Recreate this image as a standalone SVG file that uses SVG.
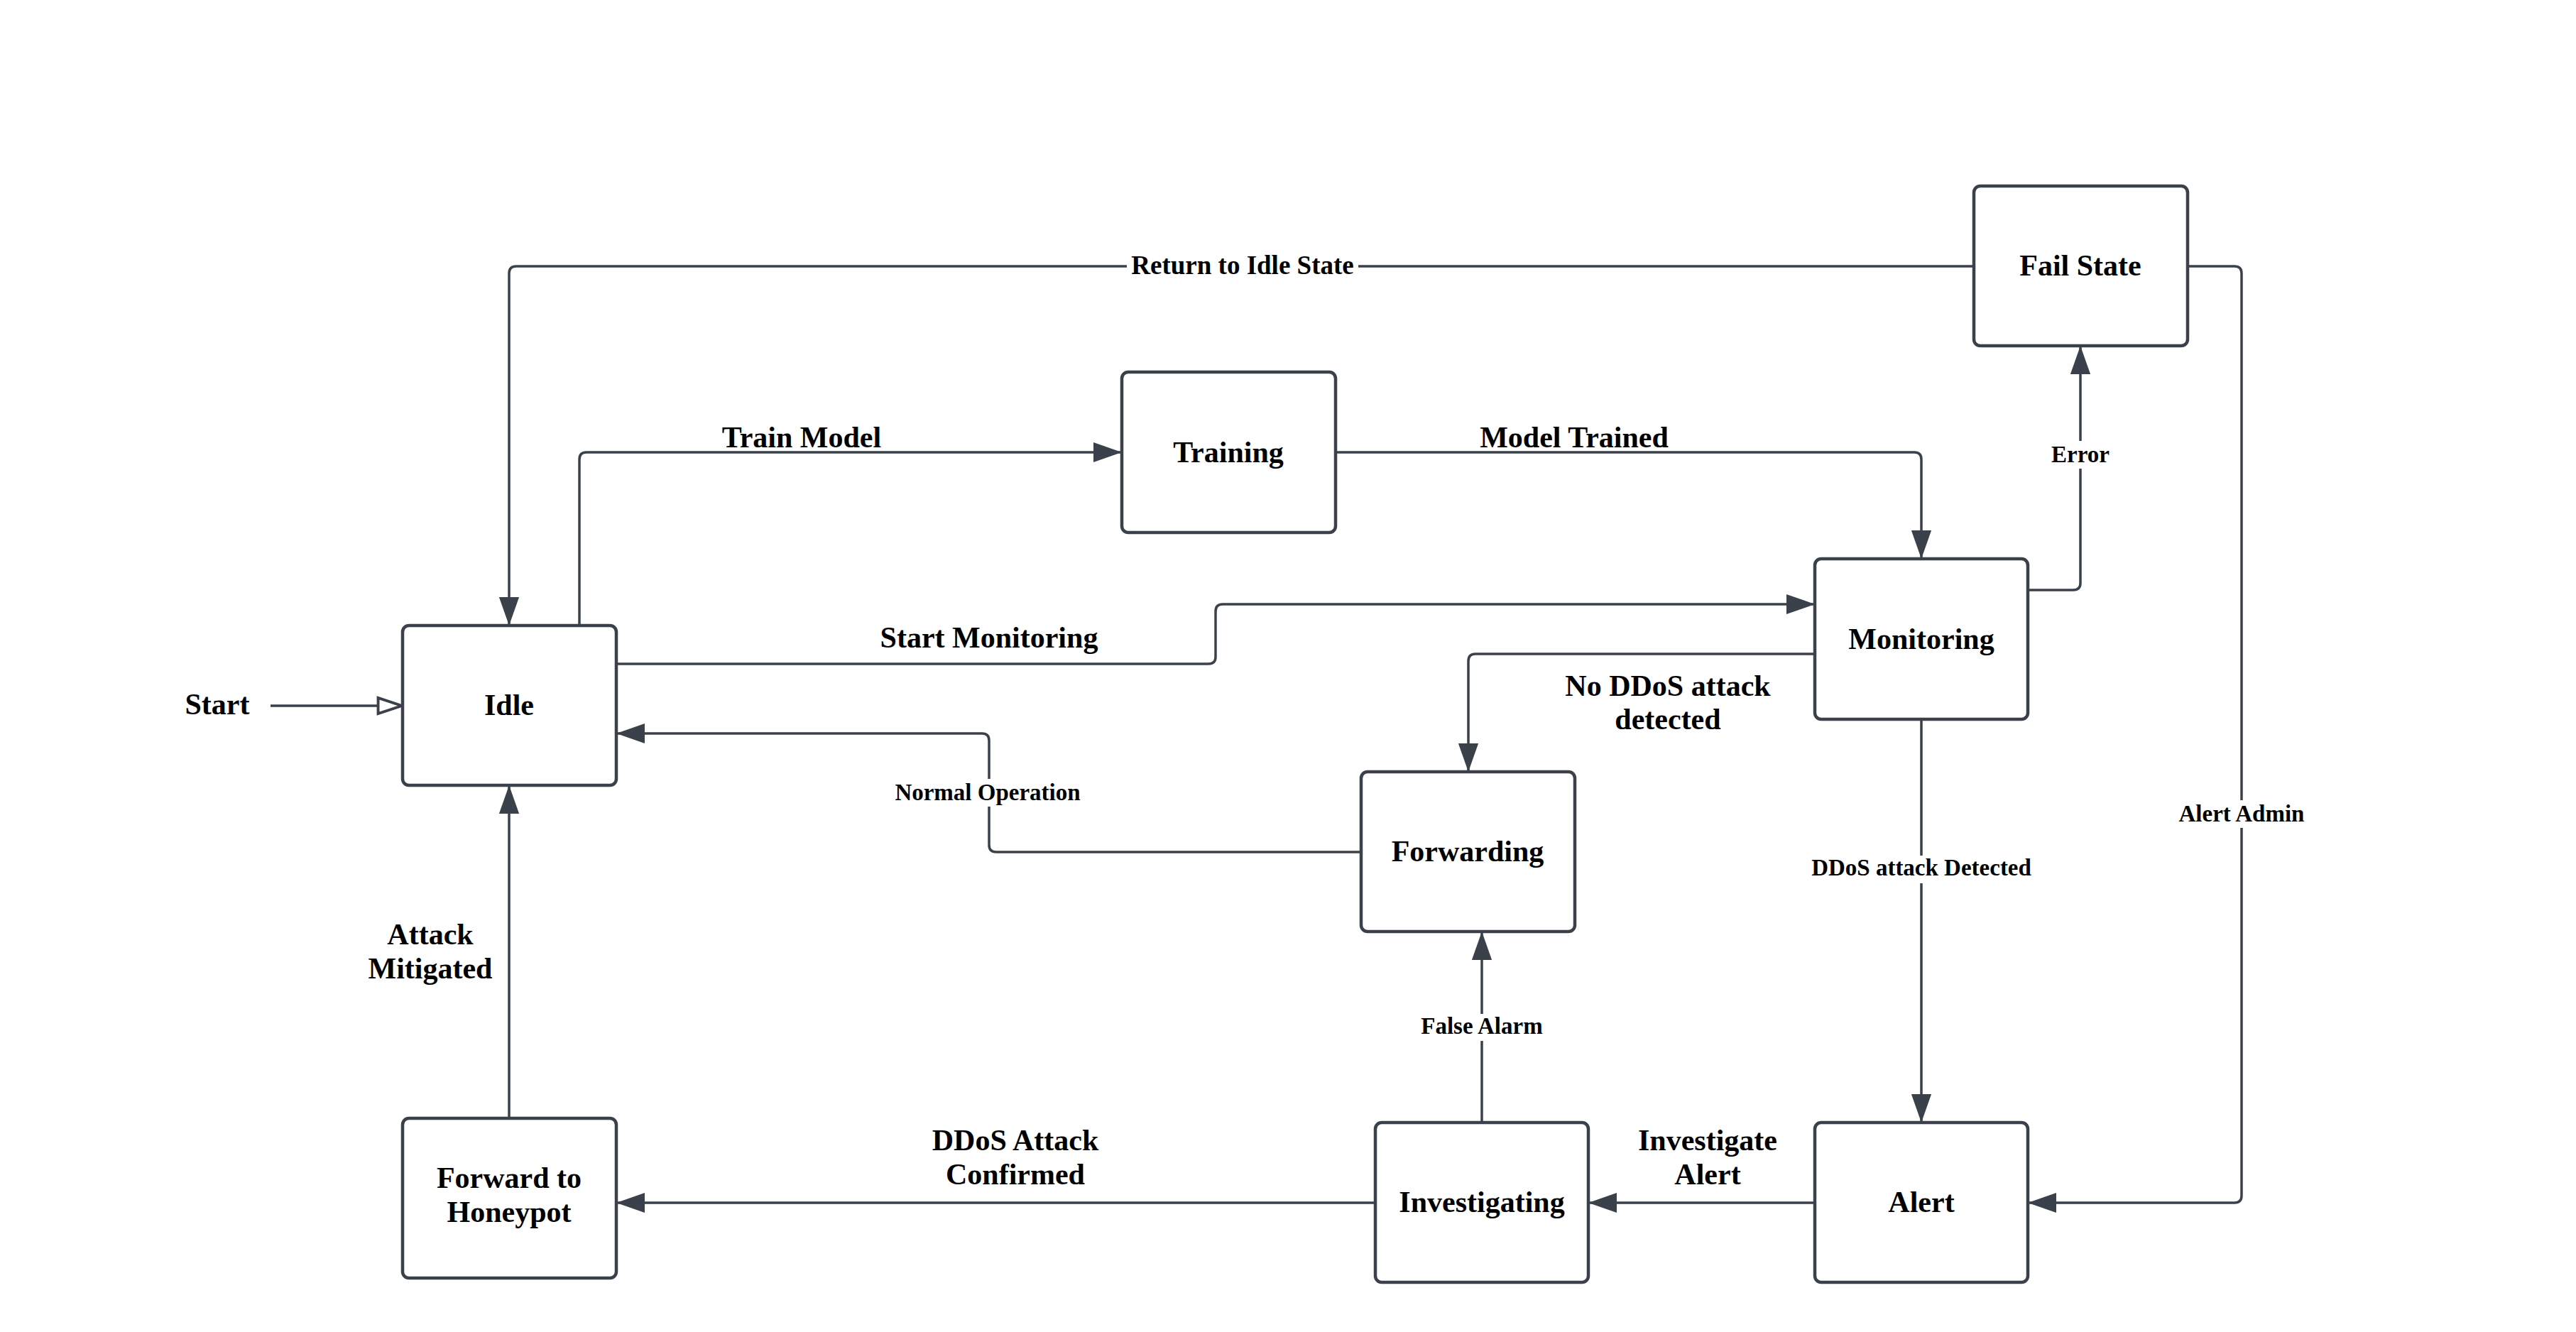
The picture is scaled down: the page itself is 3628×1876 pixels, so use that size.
<svg xmlns="http://www.w3.org/2000/svg" width="3628" height="1876" viewBox="0 0 3628 1876">
  <defs>
    <marker id="arrow" markerUnits="userSpaceOnUse" markerWidth="40" markerHeight="30" viewBox="0 0 34 24" refX="34" refY="12" orient="auto">
      <path d="M0,0 L34,12 L0,24 Z" fill="#3a414a"/>
    </marker>
    <marker id="arrow-open" markerUnits="userSpaceOnUse" markerWidth="40" markerHeight="30" viewBox="-2 -2 36 26" refX="32" refY="10" orient="auto">
      <path d="M1,0 L31,10 L1,20 Z" fill="#ffffff" stroke="#3a414a" stroke-width="3.5" stroke-linejoin="miter"/>
    </marker>
  </defs>
  <style>
    .node rect { fill: #ffffff; stroke: #3a414a; stroke-width: 4.5; }
    .node text, .label { font-family: "Liberation Serif", "Times New Roman", serif; font-weight: bold; fill: #000000; text-anchor: middle; }
    .node text { font-size: 42px; }
    .edge { fill: none; stroke: #3a414a; stroke-width: 3.5; marker-end: url(#arrow); }
    .big { font-size: 42px; }
    .small { font-size: 33px; }
    .mid { font-size: 37px; }
    .bg { fill: #ffffff; stroke: none; }
  </style>
  <rect width="3628" height="1876" fill="#ffffff"/>

  <!-- connectors -->
  <g id="connectors">
    <path id="e-start" d="M381,994 L567,994" fill="none" stroke="#3a414a" stroke-width="3.5" marker-end="url(#arrow-open)"/>
    <path id="e-return" class="edge" d="M2780,375 L727,375 Q717,375 717,385 L717,881"/>
    <path id="e-train" class="edge" d="M816,881 L816,647 Q816,637 826,637 L1580,637"/>
    <path id="e-trained" class="edge" d="M1881,637 L2696,637 Q2706,637 2706,647 L2706,787"/>
    <path id="e-monitor" class="edge" d="M868,935 L1702,935 Q1712,935 1712,925 L1712,861 Q1712,851 1722,851 L2556,851"/>
    <path id="e-noddos" class="edge" d="M2556,921 L2078,921 Q2068,921 2068,931 L2068,1087"/>
    <path id="e-normal" class="edge" d="M1917,1200 L1403,1200 Q1393,1200 1393,1190 L1393,1043 Q1393,1033 1383,1033 L868,1033"/>
    <path id="e-error" class="edge" d="M2856,831 L2920,831 Q2930,831 2930,821 L2930,487"/>
    <path id="e-admin" class="edge" d="M3081,375 L3147,375 Q3157,375 3157,385 L3157,1684 Q3157,1694 3147,1694 L2856,1694"/>
    <path id="e-detected" class="edge" d="M2706,1013 L2706,1581"/>
    <path id="e-investigate" class="edge" d="M2556,1694 L2237,1694"/>
    <path id="e-false" class="edge" d="M2087,1581 L2087,1312"/>
    <path id="e-confirmed" class="edge" d="M1937,1694 L868,1694"/>
    <path id="e-mitigated" class="edge" d="M717,1575 L717,1106"/>

    <!-- connector labels -->
    <text class="label big" x="306" y="1006">Start</text>

    <rect class="bg" x="1587" y="355" width="326" height="40"/>
    <text class="label mid" x="1750" y="386">Return to Idle State</text>

    <text class="label big" x="1129" y="630">Train Model</text>
    <text class="label big" x="2217" y="630">Model Trained</text>
    <text class="label big" x="1393" y="912">Start Monitoring</text>

    <text class="label big" x="2349" y="980">No DDoS attack</text>
    <text class="label big" x="2349" y="1027">detected</text>

    <rect class="bg" x="1258" y="1097" width="266" height="39"/>
    <text class="label small" x="1391" y="1127">Normal Operation</text>

    <rect class="bg" x="2888" y="621" width="84" height="39"/>
    <text class="label small" x="2930" y="651">Error</text>

    <rect class="bg" x="3066" y="1127" width="182" height="39"/>
    <text class="label small" x="3157" y="1157">Alert Admin</text>

    <rect class="bg" x="2547" y="1205" width="318" height="39"/>
    <text class="label small" x="2706" y="1233">DDoS attack Detected</text>

    <rect class="bg" x="1998" y="1428" width="178" height="38"/>
    <text class="label small" x="2087" y="1456">False Alarm</text>

    <text class="label big" x="2405" y="1620">Investigate</text>
    <text class="label big" x="2405" y="1668">Alert</text>

    <text class="label big" x="1430" y="1620">DDoS Attack</text>
    <text class="label big" x="1430" y="1668">Confirmed</text>

    <text class="label big" x="606" y="1330">Attack</text>
    <text class="label big" x="606" y="1378">Mitigated</text>
  </g>

  <!-- states -->
  <g id="idle" class="node">
    <rect x="567" y="881" width="301" height="225" rx="9"/>
    <text x="717" y="1007">Idle</text>
  </g>
  <g id="training" class="node">
    <rect x="1580" y="524" width="301" height="226" rx="9"/>
    <text x="1730" y="651">Training</text>
  </g>
  <g id="fail-state" class="node">
    <rect x="2780" y="262" width="301" height="225" rx="9"/>
    <text x="2930" y="388">Fail State</text>
  </g>
  <g id="monitoring" class="node">
    <rect x="2556" y="787" width="300" height="226" rx="9"/>
    <text x="2706" y="914">Monitoring</text>
  </g>
  <g id="forwarding" class="node">
    <rect x="1917" y="1087" width="301" height="225" rx="9"/>
    <text x="2067" y="1213">Forwarding</text>
  </g>
  <g id="honeypot" class="node">
    <rect x="567" y="1575" width="301" height="225" rx="9"/>
    <text x="717" y="1673">Forward to</text>
    <text x="717" y="1721">Honeypot</text>
  </g>
  <g id="investigating" class="node">
    <rect x="1937" y="1581" width="300" height="225" rx="9"/>
    <text x="2087" y="1707">Investigating</text>
  </g>
  <g id="alert" class="node">
    <rect x="2556" y="1581" width="300" height="225" rx="9"/>
    <text x="2706" y="1707">Alert</text>
  </g>
</svg>
